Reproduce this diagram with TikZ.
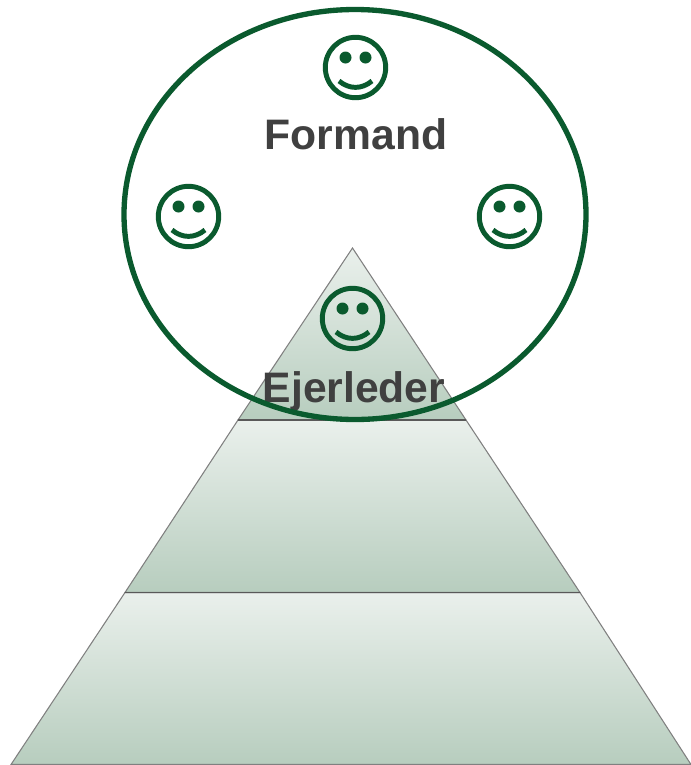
\documentclass[tikz,border=0pt]{standalone}
\usepackage{fontspec}
\usetikzlibrary{shapes.geometric}
\setmainfont{Liberation Sans}
\definecolor{ringgreen}{HTML}{0A5A2E}
\definecolor{labelgrey}{HTML}{404040}
\definecolor{layertop}{HTML}{EAF0EC}
\definecolor{layerbottom}{HTML}{B7CDBE}
\tikzset{
  layer/.style= {draw=black!50, line width=0.8pt, top color=layertop, bottom color=layerbottom},
  seam/.style= {draw=black!65, line width=0.9pt},
  label/.style= {text=labelgrey, font=\bfseries\fontsize{32}{32}\selectfont, inner sep=0},
  ring/.style= {draw=ringgreen, line width=4pt},
  smiley/.pic= {
    \draw [ringgreen, line width=3.7pt] (0,0) circle (30.2) ;
    \fill [ringgreen] (-10,-10) circle (6) ;
    \fill [ringgreen] (10,-10) circle (6) ;
    \draw [ringgreen, line width=3.7pt] (-16.5,13.5) .. controls (-6,22) and (6,22) .. (16.5,13.5) ;
  },
}
\begin{document}
\begin{tikzpicture}[x=0.75pt, y=-0.75pt]
  \useasboundingbox (0,0) rectangle (691,765) ;
  \coordinate (apex) at (352.5,248) ;
  \coordinate (tl) at (238,420) ;
  \coordinate (tr) at (466,420) ;
  \coordinate (ml) at (125,592.5) ;
  \coordinate (mr) at (580,592.5) ;
  \coordinate (bl) at (11,764.5) ;
  \coordinate (br) at (691,764.5) ;

  \path [layer] (bl) -- (br) -- (mr) -- (ml) -- cycle ;
  \path [layer] (ml) -- (mr) -- (tr) -- (tl) -- cycle ;
  \path [layer] (tl) -- (tr) -- (apex) -- cycle ;
  \draw [seam] (ml) -- (mr) ;
  \draw [seam] (tl) -- (tr) ;

  \node [label, anchor=base] (owner) at (354,402) {Ejerleder} ;
  \node [label, anchor=base] (chair) at (356,149) {Formand} ;

  \pic at (355.5,67.5) {smiley} ;
  \pic at (188.5,216.5) {smiley} ;
  \pic at (509.5,216.5) {smiley} ;
  \pic at (352.5,318.5) {smiley} ;

  \node [ring, ellipse, minimum width=346.5pt, minimum height=307.5pt, inner sep=0] (board) at (355,214.5) {} ;
\end{tikzpicture}
\end{document}
